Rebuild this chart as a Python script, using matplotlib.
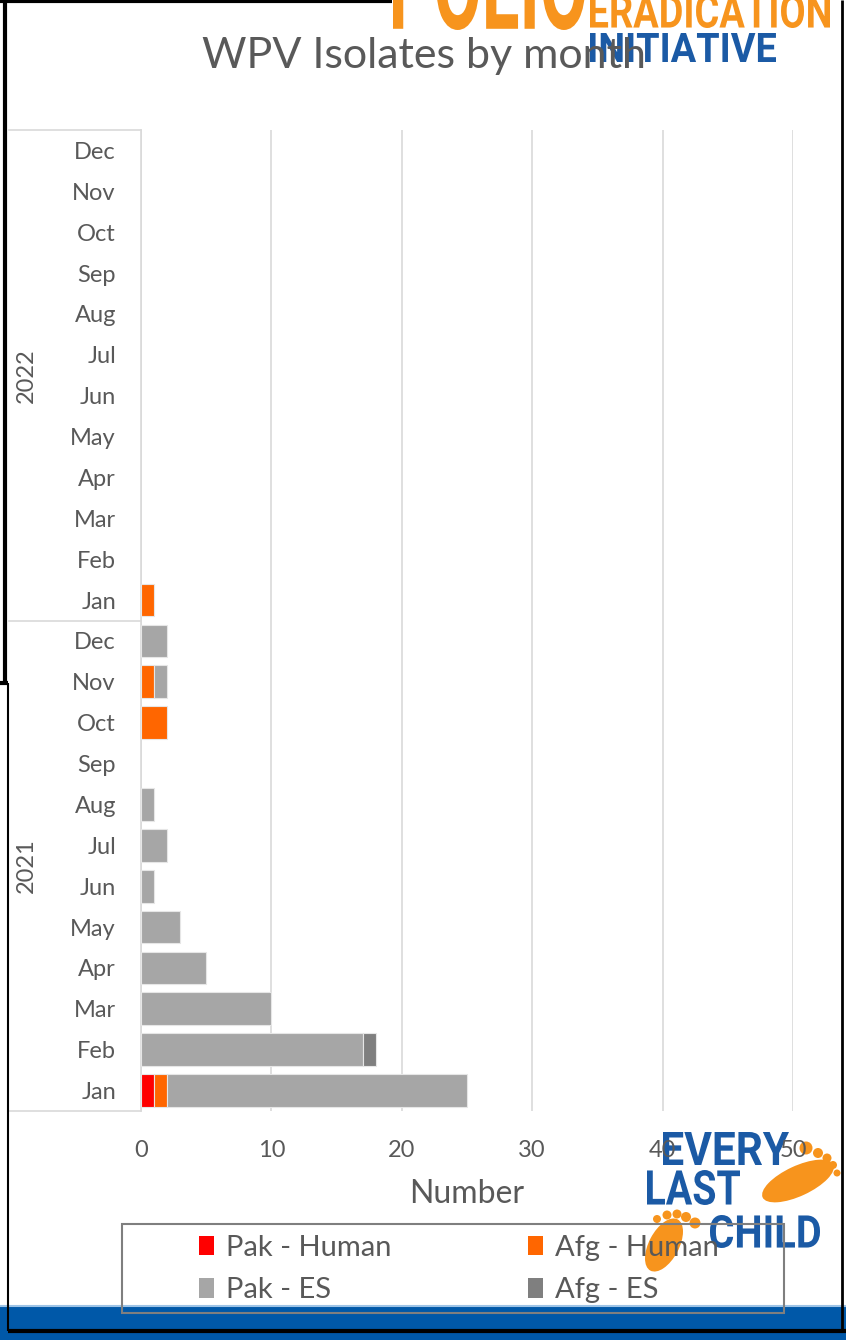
import numpy as np
import matplotlib
matplotlib.use('Agg')
import matplotlib.pyplot as plt
from matplotlib.patches import Rectangle, PathPatch, Ellipse, Circle, Patch
from matplotlib.textpath import TextPath
from matplotlib.font_manager import FontProperties
from matplotlib.transforms import Affine2D
from matplotlib.lines import Line2D

# ---------------- data ----------------
months = ['Jan', 'Feb', 'Mar', 'Apr', 'May', 'Jun', 'Jul', 'Aug', 'Sep', 'Oct', 'Nov', 'Dec']
years = ['2021', '2022']
series_names = ['Pak - Human', 'Afg - Human', 'Pak - ES', 'Afg - ES']
series_colors = ['#FF0000', '#FF6600', '#A6A6A6', '#7F7F7F']
# 2021 Jan..Dec, then 2022 Jan..Dec
pak_human = [1, 0, 0, 0, 0, 0, 0, 0, 0, 0, 0, 0,
             0, 0, 0, 0, 0, 0, 0, 0, 0, 0, 0, 0]
afg_human = [1, 0, 0, 0, 0, 0, 0, 0, 0, 2, 1, 0,
             1, 0, 0, 0, 0, 0, 0, 0, 0, 0, 0, 0]
pak_es = [23, 17, 10, 5, 3, 1, 2, 1, 0, 0, 1, 2,
          0, 0, 0, 0, 0, 0, 0, 0, 0, 0, 0, 0]
afg_es = [0, 1, 0, 0, 0, 0, 0, 0, 0, 0, 0, 0,
          0, 0, 0, 0, 0, 0, 0, 0, 0, 0, 0, 0]
x_ticks = [0, 10, 20, 30, 40, 50]

# ---------------- figure ----------------
W, H = 846, 1340
FONT = 'Lato'
TXT = '#595959'
fig = plt.figure(figsize=(W / 100, H / 100), dpi=100)
fig.patch.set_facecolor('white')
PX = Affine2D().scale(1 / 100.) + fig.dpi_scale_trans  # pixel coords, origin bottom-left


def line(xs, ys_top, lw, color, z=3):
    fig.add_artist(Line2D(xs, [H - v for v in ys_top], transform=PX, lw=lw,
                          color=color, zorder=z, solid_capstyle='butt'))


ax = fig.add_axes([141 / W, 1 - 1111 / H, (793 - 141) / W, (1111 - 130) / H])
ax.set_facecolor('none')

y = np.arange(len(months) * len(years))
data = [pak_human, afg_human, pak_es, afg_es]
left = np.zeros(len(y))
for vals, col in zip(data, series_colors):
    vals = np.array(vals, dtype=float)
    lws = [0.8 if v > 0 else 0 for v in vals]
    ax.barh(y, vals, left=left, height=0.8, color=col, edgecolor='#E6E6E6',
            linewidth=lws, zorder=3)
    left += vals

ax.set_xlim(0, 50)
ax.set_ylim(-0.5, len(y) - 0.5)
ax.set_xticks(x_ticks)
ax.set_xticklabels([str(t) for t in x_ticks], fontfamily=FONT)
ax.set_yticks(y)
ax.set_yticklabels(months * len(years), fontfamily=FONT)
ax.tick_params(axis='y', length=0, pad=18, labelsize=17, labelcolor=TXT)
ax.tick_params(axis='x', length=0, pad=21, labelsize=17, labelcolor=TXT)
for s in ['top', 'right', 'bottom']:
    ax.spines[s].set_visible(False)
ax.spines['left'].set_color('#D9D9D9')
ax.spines['left'].set_linewidth(1.2)
ax.xaxis.grid(True, color='#D9D9D9', lw=1.2)
ax.set_axisbelow(True)
ax.set_xlabel('Number', fontsize=23, color=TXT, fontfamily=FONT, labelpad=13)

# multi-level category separators and year labels
ytr = ax.get_yaxis_transform()
xl = (9 - 141) / (793 - 141)
for yy in [-0.5, 11.5, 23.5]:
    ax.plot([xl, 0], [yy, yy], color='#D9D9D9', lw=1.2, transform=ytr, clip_on=False)
for i, yr in enumerate(years):
    ax.text((26 - 141) / (793 - 141), i * 12 + 5.5, yr, rotation=90, ha='center',
            va='center', transform=ytr, fontsize=17, color=TXT, fontfamily=FONT)

# title
fig.text(424 / W, 1 - 56 / H, 'WPV Isolates by month', ha='center', va='center',
         fontsize=31, color=TXT, fontfamily=FONT, zorder=10)

# legend
order = [0, 2, 1, 3]
handles = [Patch(facecolor=series_colors[i], edgecolor='none', label=series_names[i]) for i in order]
leg = fig.legend(handles=handles, ncol=2, loc='center', bbox_to_anchor=(459 / W, 1 - 1269 / H),
                 frameon=False, prop={'family': FONT, 'size': 21}, handlelength=0.5,
                 handleheight=0.65, handletextpad=0.42, columnspacing=4.7,
                 labelspacing=0.55, labelcolor=TXT)
leg.set_zorder(8)
fig.add_artist(Rectangle((122, H - 1313), 662, 89, transform=PX, fill=False,
                         edgecolor='#7F7F7F', lw=1.5, zorder=7))

# bottom band and frame lines
fig.add_artist(Rectangle((0, 0), W, H - 1306, transform=PX, facecolor='#0058A8',
                         edgecolor='none', zorder=2))
line([0, W], [1306, 1306], 1.5, '#9DC3E6', 2.5)
line([8, W], [1331, 1331], 3, 'black', 3)
line([5, 5], [0, 683], 3, 'black')
line([0, 8], [683, 683], 3, 'black')
line([8, 8], [683, 1331], 1.5, 'black')
line([0, 392], [1, 1], 3, 'black')
line([842, 842], [0, 1331], 2, 'black')

# logos (decorative, behind the chart texts)
LOGO_FP = FontProperties(family='Roboto', weight='bold')
ORANGE = '#F7941D'
BLUE = '#1B5AA5'
LZ = -1


def fit_text(s, x0, ytop, x1, ybot, color, z=LZ):
    tp = TextPath((0, 0), s, size=100, prop=LOGO_FP)
    ext = tp.get_extents()
    sx = (x1 - x0) / ext.width
    sy = (ybot - ytop) / ext.height
    tr = Affine2D().translate(-ext.x0, -ext.y0).scale(sx, sy).translate(x0, H - ybot) + PX
    fig.add_artist(PathPatch(tp, transform=tr, facecolor=color, edgecolor='none', zorder=z))


fit_text('POLIO', 393, -60, 585, 30, ORANGE)
fit_text('ERADICATION', 590, -6, 830, 28, ORANGE)
fit_text('INITIATIVE', 590, 33, 776, 62, BLUE)

# every last child footprints
for (cx, cy, w, h, a) in [(798, 1181, 78, 30, 25), (664, 1245, 58, 30, 62)]:
    fig.add_artist(Ellipse((cx, H - cy), w, h, angle=a, transform=PX, facecolor=ORANGE,
                           edgecolor='none', zorder=LZ))
for (cx, cy, r) in [(806, 1148, 6.5), (818, 1153, 5), (827, 1158, 4.5), (833, 1165, 4),
                    (837, 1173, 3.5),
                    (657, 1219, 4), (667, 1215, 4.5), (677, 1214, 4.5), (686, 1217, 5),
                    (695, 1223, 5.5)]:
    fig.add_artist(Circle((cx, H - cy), r, transform=PX, facecolor=ORANGE,
                          edgecolor='none', zorder=LZ))
fit_text('EVERY', 663, 1132, 789, 1165, BLUE)
fit_text('LAST', 647, 1170, 740, 1205, BLUE)
fit_text('CHILD', 710, 1215, 820, 1248, BLUE)

fig.savefig('out.png', dpi=100, facecolor='white')
